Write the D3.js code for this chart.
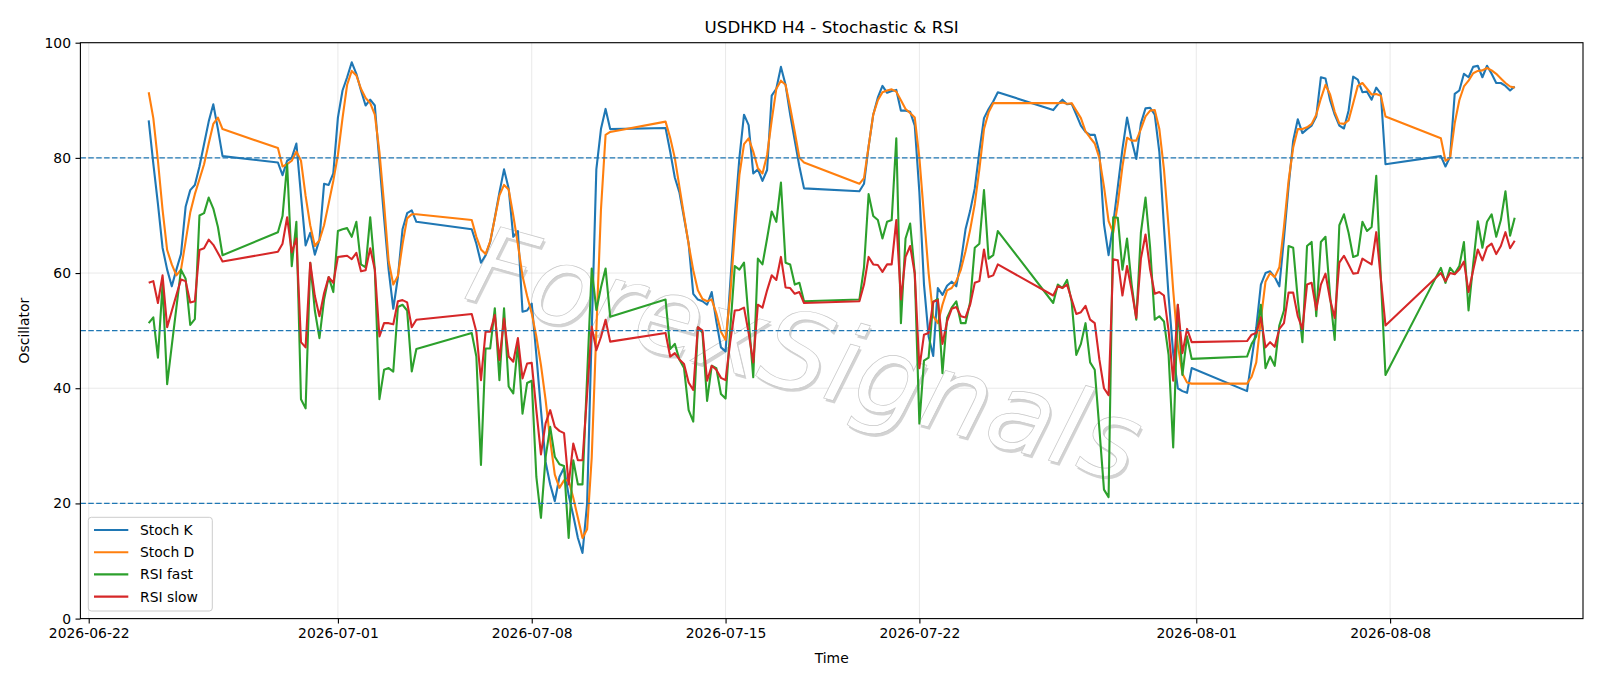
<!DOCTYPE html>
<html><head><meta charset="utf-8">
<script src="https://cdn.jsdelivr.net/npm/d3@7"></script>
<style>body{margin:0;background:#fff}svg{display:block;font-family:"DejaVu Sans",sans-serif}</style>
</head><body><svg id="chart" width="1600" height="686"></svg>
<script>
// H4 trading sessions (bar times, UTC), one bar every 4 hours inside each session
const sessions = [
  ["2026-06-24 04:00","2026-06-26 20:00"],
  ["2026-06-28 20:00","2026-07-03 20:00"],
  ["2026-07-05 20:00","2026-07-10 20:00"],
  ["2026-07-12 20:00","2026-07-17 20:00"],
  ["2026-07-19 20:00","2026-07-24 20:00"],
  ["2026-07-26 20:00","2026-07-31 20:00"],
  ["2026-08-02 20:00","2026-08-07 20:00"],
  ["2026-08-09 20:00","2026-08-12 12:00"]
];
const xTickLabels = ["2026-06-22","2026-07-01","2026-07-08","2026-07-15","2026-07-22","2026-08-01","2026-08-08"];
const yTicks = [0,20,40,60,80,100];
const refLevels = [20,50,80];
const seriesNames = ["Stoch K","Stoch D","RSI fast","RSI slow"];
const seriesColors = ["#1f77b4","#ff7f0e","#2ca02c","#d62728"];

const stochK = [
 86.5,79,72,64.4,60.6,57.7,60.6,63.3,71.5,74.4,75.3,78.5,82.4,86.3,89.3,85,80.3,
 79.2, 77.0,79.5,80,82.5,73.5,64.8, 67,63.2,65.8,75.5,75.3,77.3, 87,91.7,94,96.6,94.6,91.7, 89.1,90.1,89.1,79.2,69.6,60.5, 53.8,59.3,67.6,70.4,70.9,68.9,
 67.6, 65.1,61.8,63.1,65.4,69.6,74, 78,74.7,66.3,67.3,53.3,53.5, 54.7,45.8,36.2,27.2,23.3,20.4, 24.6,26.2,21.4,17.9,14,11.4, 20,50,78,85,88.5,85,
 85.2, 81.1,76.6,74,69.6,65.1,56.4, 55.4,55.1,54.5,56.7,51.6,47.1, 46.4,58,70,80,87.5,85.7, 77.3,78,76,77.9,90.8,92, 95.8,92.7,87.5,83,78.5,74.7,
 74.2, 75.5,82,87.5,90.5,92.5,91.3, 91.6,91.8,88.2,88.2,88,85.6, 74,58,49,45.6,57.4,56.2, 57.8,58.5,57.7,62,67.6,70.8, 74.7,81.1,86.9,88.5,89.8,91.4,
 88.3, 89.3,90.1,89.3,89.4,87.5,85.6, 84.5,84,84,81,68.5,63.1, 68.5,75,81.5,87,83,79.8, 86,88.6,88.7,87.5,81,68, 56,46,40,39.5,39.2,43.5,
 39.5, 45,50.5,58,60,60.3,59.3, 57.7,66,75,83,86.7,84.3, 85,85.6,87.2,94,93.8,90, 87.5,85.6,85.1,88.2,94.1,93.6, 91.4,91.5,90.1,92.2,91.1,78.9,
 80.3, 78.5,80.2,91.1,91.7,94.6,94, 95.8,96,94,96,94.6,93, 93,92.5,91.7,92.4
];
const stochD = [
 91.4,86.9,79.5,71,64,61.5,59.6,60.6,65.5,70.5,73.7,76.3,78.9,82.5,85.9,87,85,
 81.7, 78.5,78.9,79.5,81.1,79.5,73.4, 68.3,64.7,65.7,68.3,72.1,76, 80.5,86.9,92.7,95.1,94.3,92, 90.4,89.5,87.5,81,72,62, 58,59.5,65,69.5,70.2,70.2,
 69.2, 66.3,64.1,63.3,65.5,69.5,73.5, 75.3,74.5,70,65,59.5,56, 53,49,44,38,31,25, 22.7,24,24,21,17.5,14, 15.5,28,50,71,84,84.5,
 86.3, 83.5,80,75,70,65,60.5, 57,55.5,55.1,55.4,53,49.8, 48.4,56,67,77,82.4,83.4, 81.1,78.2,77.3,80.5,86.5,92, 93.4,92.7,88.8,84.5,80,79.2,
 75.5, 76.5,82,87.5,90,91.4,91.7, 91.9,91.5,90,88.5,87.8,87, 80,70,60,52.5,51.3,54.5, 57,57.4,58.6,60.6,63.8,67.5, 72,78,85,87.9,89.5,89.5,
 89.5, 89.5,89.6,89.4,89.5,88.2,86.9, 84.6,83.5,82.5,80,75,69, 67,72,78.5,83.5,83,83, 85,87.2,88.2,88.3,85,78, 68,57,47.5,42.5,41,40.8,
 40.8, 42,44.5,52,58.5,60,59.3, 61,68,76,81.8,85,85, 85.3,85.9,87.5,90.3,92.7,91, 88,86,85.9,86.5,89.5,92.5, 93,92,91,91.1,90.8,87.2,
 83.4, 79.5,80,86,90,92.4,93.4, 94.7,95.1,95.2,95.6,95.2,94.6, 93.8,93,92.4,92.2
];
const rsiFast = [
 51.3,52.3,45.3,58,40.7,47.4,54,60.6,59,51,52,70,70.4,73.1,71.2,68,63.1,
 67.1, 69.9,78.9,61.2,68.9,38.1,36.5, 61.8,53.5,48.7,55.4,59.3,56.7, 67.3,67.6,67.8,66.3,68.9,61.5, 61,69.7,60.6,38.1,43.2,43.5, 42.9,54.1,54.5,53.5,42.9,46.8,
 49.6, 45.5,26.7,46.9,46.9,53.9,41.4, 53.9,40.3,39.1,47.8,35.6,40.9, 41.3,24.6,17.5,28,33.3,28.1, 26.8,26.5,14,27.5,23.3,23.3, 42,60.8,53.6,57.5,60.8,52.4,
 55.4, 46.8,47.7,45,43.5,36.2,34.2, 50.6,49.6,37.8,43.9,43.5,39, 38.2,50,61.2,60.6,61.8,52, 41.9,62.5,61.5,66,70.7,68.9, 75.7,61.8,61.5,58,58.3,55.1,
 55.4, 61,73.7,69.9,69.2,66,68.9, 69.2,83.4,51.3,66,68.6,59.9, 33.9,44.8,45.3,55,55.5,42.6, 52.2,54,55.1,51.3,51.3,55, 64.4,65.1,74.4,62.5,63.1,67.3,
 54.8, 58,57.4,58.8,55,45.8,47.7, 51.3,44.5,43.2,33,22.4,21.1, 69.7,69.6,60.6,66,58,51.9, 67,73.1,64.4,51.9,52.5,51.6, 45.8,29.7,54.5,42.3,49,45.1,
 45.5, 47.7,49,54.5,43.5,45.5,43.9, 50.9,53.5,64.7,64.4,55.4,48, 64.7,65.4,52.5,65.4,66.3,56, 48.4,68.3,70.2,67,62.8,63.1, 68.9,67.3,68,76.9,59,42.3,
 60.9, 58.3,60.9,59.9,61.2,65.4,53.5, 61.5,69,64.4,68.9,70.2,66.3, 69.2,74.2,66.5,69.6
];
const rsiSlow = [
 58.3,58.6,54.8,59.6,50.6,53.4,56.2,58.9,58.6,54.9,55.1,64,64.3,65.8,64.9,63.5,62,
 63.7, 65.1,69.7,63.6,66,48,47.1, 61.8,56,52.5,56.5,59.3,58.3, 62.8,62.9,63,62.4,63.5,60.3, 60.5,64.3,60.6,49,51.3,51.3, 51.1,55.1,55.3,54.9,50.6,51.9,
 52.9, 49.8,41.4,49.8,49.8,52.7,44.9, 52.1,45.5,44.6,48.7,41.7,44.3, 44.4,36.2,28.5,33.9,36.2,33.3, 32.6,32.2,23.3,30.4,27.5,27.5, 39,50.7,46.6,48.9,51.9,48.1,
 49.6, 45.5,46.1,45,44.2,41,39.7, 50.6,50,41.3,43.9,43.2,41.8, 41.4,48,53.5,53.6,54,49.6, 44.5,54.5,54,57,59.6,58.8, 62.8,57.5,57.4,56.4,56.7,54.8,
 55.1, 58,62.8,61.5,61.4,60.2,61.5, 61.5,69.2,55.4,62.8,64.7,59.9, 43.5,49.3,49.6,55,55.3,47.7, 51.6,53.8,54.1,52.5,52.3,54.5, 58.3,58.6,64.1,59.3,59.6,61.5,
 56.1, 57.7,57.4,58,55.4,52.9,53.2, 54.3,51.9,51.3,45,40,38.8, 62.4,62.2,56.1,61.2,57,52.2, 62.5,66.7,60.6,56.4,56.7,56.1, 50,41.3,54.5,46.1,50.3,48,
 48.2, 49.3,49.6,52.3,47.1,48,47.2, 50.3,51.3,56.6,56.6,52.5,50.3, 58,58.3,53.6,58,59.9,55.4, 52.2,61.8,63,61.5,59.9,60, 62.5,62,61.5,67.1,59,50.9,
 60, 58.6,60,59.8,60.6,62,56.7, 60.5,64.1,62.2,64.5,65.1,63.3, 64.7,67.1,64.3,65.6
];

const parse = d3.utcParse("%Y-%m-%d %H:%M");
const times = [];
sessions.forEach(([a, b]) => {
  let t = parse(a); const e = parse(b);
  while (t <= e) { times.push(t); t = d3.utcHour.offset(t, 4); }
});
const seriesData = [stochK, stochD, rsiFast, rsiSlow];

const M = {left: 80.4, right: 1583, top: 42.7, bottom: 618.6};
const svg = d3.select("#chart");

const t0 = times[0], t1 = times[times.length - 1];
const pad = (t1 - t0) * 0.05;
const x = d3.scaleUtc().domain([new Date(+t0 - pad), new Date(+t1 + pad)]).range([M.left, M.right]);
const y = d3.scaleLinear().domain([0, 100]).range([M.bottom, M.top]);
const tickDates = xTickLabels.map(s => d3.utcParse("%Y-%m-%d")(s));

// grid
const grid = svg.append("g");
grid.selectAll("line.vx").data(tickDates).enter().append("line")
  .attr("x1", d => x(d)).attr("x2", d => x(d)).attr("y1", M.top).attr("y2", M.bottom)
  .attr("stroke", "#b0b0b0").attr("stroke-opacity", 0.35).attr("stroke-width", 0.8);
grid.selectAll("line.hy").data(yTicks).enter().append("line")
  .attr("x1", M.left).attr("x2", M.right).attr("y1", d => y(d)).attr("y2", d => y(d))
  .attr("stroke", "#b0b0b0").attr("stroke-opacity", 0.35).attr("stroke-width", 0.8);

// watermark (behind the data lines)
const wm = svg.append("g").attr("transform", "translate(795,390) rotate(15.5)");
wm.append("text").attr("x", 2.4).attr("y", 2.4).attr("text-anchor", "middle")
  .attr("font-size", 108).attr("font-weight", 200).attr("font-style", "italic")
  .attr("fill", "#b8b8b8").attr("fill-opacity", 0.62)
  .text("ForexSignals");
wm.append("text").attr("x", 0).attr("y", 0).attr("text-anchor", "middle")
  .attr("font-size", 108).attr("font-weight", 200).attr("font-style", "italic")
  .attr("fill", "#ffffff").attr("stroke", "#c8c8c8").attr("stroke-width", 0.7)
  .text("ForexSignals");

// series
const line = d3.line().x((d, i) => x(times[i])).y(d => y(d));
seriesData.forEach((arr, k) => {
  svg.append("path").datum(arr).attr("d", line)
    .attr("fill", "none").attr("stroke", seriesColors[k]).attr("stroke-width", 2.1)
    .attr("stroke-linejoin", "round").attr("stroke-linecap", "butt");
});

// reference levels
svg.selectAll("line.ref").data(refLevels).enter().append("line")
  .attr("x1", M.left).attr("x2", M.right).attr("y1", d => y(d)).attr("y2", d => y(d))
  .attr("stroke", "#1f77b4").attr("stroke-width", 1.3).attr("stroke-dasharray", "5.5,2.4");

// axes
const xAxis = d3.axisBottom(x).tickValues(tickDates).tickFormat(d3.utcFormat("%Y-%m-%d")).tickSize(4.9).tickPadding(4.5);
const gx = svg.append("g").attr("transform", `translate(0,${M.bottom})`).call(xAxis);
const yAxis = d3.axisLeft(y).tickValues(yTicks).tickSize(4.9).tickPadding(4.5);
const gy = svg.append("g").attr("transform", `translate(${M.left},0)`).call(yAxis);
[gx, gy].forEach(g => {
  g.select(".domain").remove();
  g.selectAll(".tick line").attr("stroke", "#000").attr("stroke-width", 1.1);
  g.selectAll(".tick text").attr("font-family", "DejaVu Sans").attr("font-size", 13.9).attr("fill", "#000");
});
gx.selectAll(".tick text").attr("dy", "0.71em");

// frame
svg.append("rect").attr("x", M.left).attr("y", M.top).attr("width", M.right - M.left).attr("height", M.bottom - M.top)
  .attr("fill", "none").attr("stroke", "#000").attr("stroke-width", 1.1);

// labels
svg.append("text").attr("x", (M.left + M.right) / 2).attr("y", 33).attr("text-anchor", "middle")
  .attr("font-size", 16.7).text("USDHKD H4 - Stochastic & RSI");
svg.append("text").attr("x", (M.left + M.right) / 2).attr("y", 663).attr("text-anchor", "middle")
  .attr("font-size", 13.9).text("Time");
svg.append("text").attr("transform", `translate(28.6,${(M.top + M.bottom) / 2}) rotate(-90)`).attr("text-anchor", "middle")
  .attr("font-size", 13.9).text("Oscillator");

// legend
const lg = svg.append("g");
lg.append("rect").attr("x", 88.3).attr("y", 517.3).attr("width", 124).attr("height", 93.7).attr("rx", 3)
  .attr("fill", "#fff").attr("fill-opacity", 0.8).attr("stroke", "#cccccc").attr("stroke-width", 1);
seriesNames.forEach((n, i) => {
  const yy = 530 + i * 22.2;
  lg.append("line").attr("x1", 94).attr("x2", 128.3).attr("y1", yy).attr("y2", yy)
    .attr("stroke", seriesColors[i]).attr("stroke-width", 2.1);
  lg.append("text").attr("x", 140).attr("y", yy + 5).attr("font-size", 13.9).text(n);
});
</script>
</body></html>
